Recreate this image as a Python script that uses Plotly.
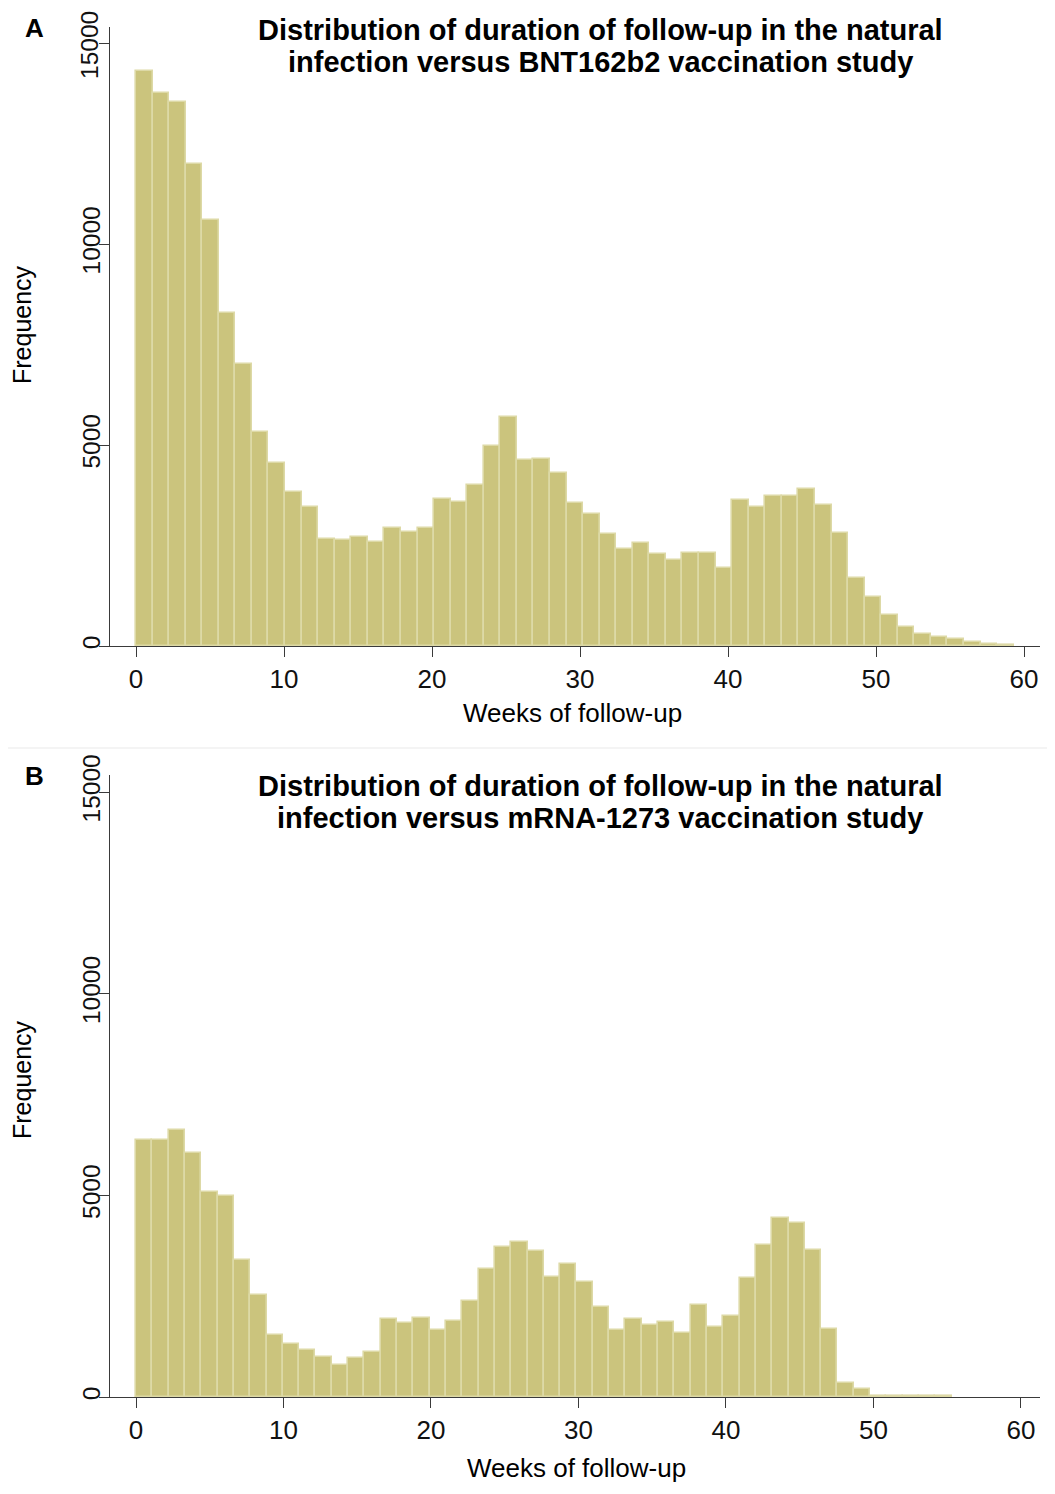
import numpy as np
import plotly.graph_objects as go

# ---------------- data ----------------
# Panel A: natural infection vs BNT162b2 (53 bins from 0 to ~59.3 weeks)
max_week_a = 59.3
freq_a = [14315, 13765, 13543, 11988, 10598, 8282, 7017, 5328, 4556, 3832,
          3446, 2674, 2625, 2722, 2577, 2934, 2838, 2934, 3658, 3571,
          4015, 4971, 5690, 4620, 4650, 4312, 3549, 3275, 2778, 2404,
          2570, 2289, 2139, 2305, 2322, 1932, 3632, 3450, 3723, 3740,
          3914, 3499, 2803, 1692, 1219, 763, 473, 290, 232, 174,
          100, 50, 33]

# Panel B: natural infection vs mRNA-1273 (50 bins from 0 to ~55.3 weeks)
max_week_b = 55.3
freq_b = [6367, 6367, 6617, 6058, 5075, 4992, 3408, 2517, 1533, 1325,
          1158, 992, 800, 958, 1117, 1942, 1825, 1950, 1650, 1892,
          2383, 3167, 3717, 3840, 3627, 2970, 3304, 2846, 2230, 1656,
          1939, 1789, 1856, 1598, 2280, 1731, 1997, 2954, 3761, 4427,
          4319, 3645, 1697, 341, 200, 30, 25, 25, 20, 15]

x_ticks = [0, 10, 20, 30, 40, 50, 60]
y_ticks = [0, 5000, 10000, 15000]
y_tick_text = ["0", "5000", "10000", "15000"]

title_a = ["Distribution of duration of follow-up in the natural",
           "infection versus BNT162b2 vaccination study"]
title_b = ["Distribution of duration of follow-up in the natural",
           "infection versus mRNA-1273 vaccination study"]
x_title = "Weeks of follow-up"
y_title = "Frequency"

# ---------------- styling ----------------
W, H = 1055, 1494
OFF = 8  # page body margin compensation
FONT = "Liberation Sans, Arial, Helvetica, sans-serif"
BAR_FILL = "rgb(203,196,125)"
BAR_LINE = "rgb(221,217,166)"
AXIS_COL = "#3a3a3a"
TICK_SIZE_Y = 24.5

def px_x(p):
    return (p - OFF) / W

def px_y(p):
    return 1 - (p - OFF) / H

fig = go.Figure()

def add_hist(freq, max_week, xa, ya):
    n = len(freq)
    width = max_week / n
    centers = (np.arange(n) + 0.5) * width
    fig.add_trace(go.Bar(
        x=centers, y=freq, width=width,
        marker=dict(color=BAR_FILL, line=dict(color=BAR_LINE, width=1.6)),
        xaxis=xa, yaxis=ya, showlegend=False, hoverinfo="x+y"))

add_hist(freq_a, max_week_a, "x", "y")
add_hist(freq_b, max_week_b, "x2", "y2")

axis_common = dict(
    showline=True, linecolor=AXIS_COL, linewidth=1.4,
    ticks="outside", ticklen=10, tickwidth=1.4, tickcolor=AXIS_COL,
    showgrid=False, zeroline=False, automargin=False,
    ticklabeloverflow="allow",
)
x_extra = dict(tickvals=x_ticks,
               tickfont=dict(family=FONT, size=26, color="#111111"))
y_font = dict(family=FONT, size=TICK_SIZE_Y, color="#111111")

# top panel: the topmost label sits at the page edge, so it is drawn as an
# annotation (kept fully inside the page) instead of an axis tick label
y_text_a = y_tick_text[:-1] + [""]

xdom = [px_x(110), px_x(1040)]
fig.update_layout(
    width=W, height=H,
    margin=dict(l=0, r=0, t=0, b=0),
    paper_bgcolor="white", plot_bgcolor="white",
    bargap=0,
    xaxis=dict(domain=xdom, range=[-1.757, 61.08],
               anchor="y", **x_extra, **axis_common),
    yaxis=dict(domain=[px_y(646), px_y(27)], range=[0, 15398],
               tickvals=y_ticks, ticktext=y_text_a, tickangle=-90,
               ticklabelstandoff=-11, tickfont=y_font,
               anchor="x", **axis_common),
    xaxis2=dict(domain=xdom, range=[-1.763, 61.29],
                anchor="y2", **x_extra, **axis_common),
    yaxis2=dict(domain=[px_y(1397), px_y(775)], range=[0, 15423],
                tickvals=y_ticks, ticktext=y_tick_text, tickangle=-90,
                ticklabelstandoff=-11, tickfont=y_font,
                anchor="x2", **axis_common),
)

ann = []
def text(x, y, s, size, bold=False, angle=0, color="#000000"):
    ann.append(dict(x=px_x(x), y=px_y(y), xref="paper", yref="paper",
                    text=("<b>%s</b>" % s) if bold else s, showarrow=False,
                    xanchor="center", yanchor="middle", textangle=angle,
                    font=dict(family=FONT, size=size, color=color)))

# panel A
text(34, 28, "A", 26, bold=True)
text(600, 30, title_a[0], 29, bold=True)
text(600, 62, title_a[1], 29, bold=True)
text(572, 713, x_title, 26)
text(22, 325, y_title, 25, angle=-90)
text(90, 45, y_tick_text[-1], TICK_SIZE_Y, angle=-90, color="#111111")
# panel B
text(34, 776, "B", 26, bold=True)
text(600, 786, title_b[0], 29, bold=True)
text(600, 818, title_b[1], 29, bold=True)
text(576, 1468, x_title, 26)
text(22, 1080, y_title, 25, angle=-90)

fig.update_layout(annotations=ann)

# faint separator between the two panels
fig.add_shape(type="line", xref="paper", yref="paper",
              x0=0, x1=1, y0=px_y(748), y1=px_y(748),
              line=dict(color="#f1f1f1", width=1.5))

fig.write_html("out.html")
